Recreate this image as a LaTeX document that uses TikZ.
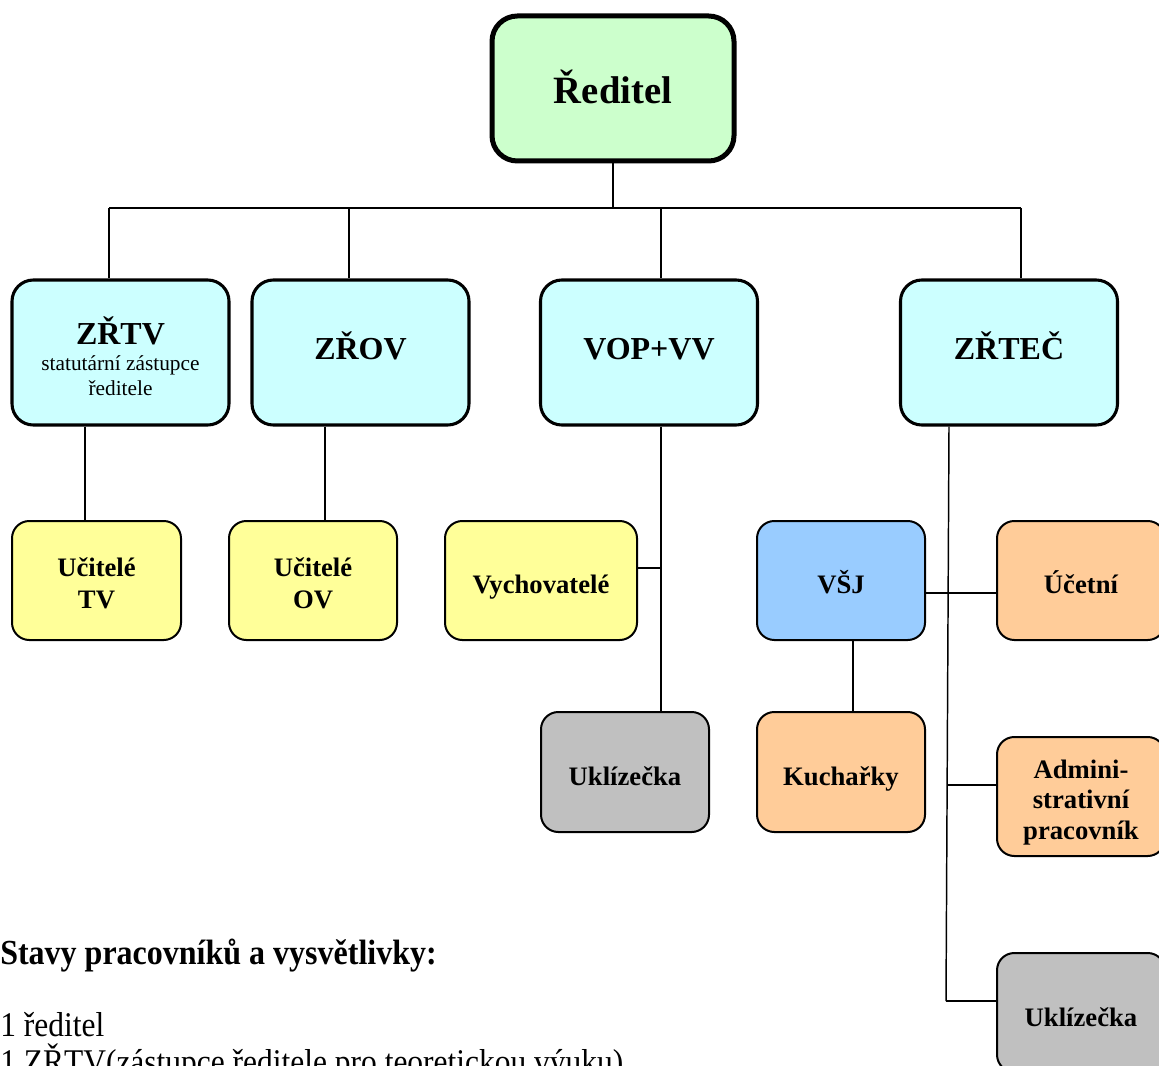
\documentclass[tikz,border=0pt]{standalone}
\usepackage{fontspec}
\setmainfont{Liberation Serif}
\definecolor{cgreen}{HTML}{CCFFCC}
\definecolor{ccyan}{HTML}{CCFFFF}
\definecolor{cyellow}{HTML}{FFFF99}
\definecolor{cblue}{HTML}{99CCFF}
\definecolor{corange}{HTML}{FFCC99}
\definecolor{cgray}{HTML}{C0C0C0}
\begin{document}
\begin{tikzpicture}[x=0.75pt,y=-0.75pt,
  topbox/.style={draw, line width=3.75pt, rounded corners=19pt, fill=cgreen,
    minimum width=242*0.75pt, minimum height=145*0.75pt, inner sep=0pt},
  midbox/.style={draw, line width=2.3pt, rounded corners=16pt, fill=ccyan,
    minimum width=217*0.75pt, minimum height=145*0.75pt, inner sep=0pt},
  smallbox/.style={draw, line width=1.5pt, rounded corners=13pt,
    minimum width=168*0.75pt, minimum height=119*0.75pt, inner sep=0pt},
  toptxt/.style={inner sep=0pt, font=\fontsize{29}{34}\selectfont\bfseries},
  midtxt/.style={inner sep=0pt, align=center, font=\fontsize{24}{28}\selectfont\bfseries},
  smalltxt/.style={inner sep=0pt, align=center, font=\fontsize{20}{24}\selectfont\bfseries},
  conn/.style={line width=1.1pt},
  legend/.style={anchor=base west, inner sep=0pt, yscale=1.1}]
\path[use as bounding box] (0,0) rectangle (1159,1066);
\clip (0,0) rectangle (1159,1066);

% boxes
\node[topbox] (dir) at (613,88.5) {};
\node[toptxt] (dir-t) at (613,86.5) {Ředitel};
\node[midbox] (zrtv) at (120.5,352.5) {};
\node[inner sep=0pt, align=center, font=\fontsize{16}{18.8}\selectfont] (zrtv-t) at (120.5,356)
  {{\fontsize{24}{28}\selectfont\bfseries ZŘTV}\\[1pt]statutární zástupce\\ředitele};
\node[midbox] (zrov) at (360.5,352.5) {};
\node[midtxt] (zrov-t) at (360.5,345.5) {ZŘOV};
\node[midbox] (vop) at (649,352.5) {};
\node[midtxt] (vop-t) at (649,349.5) {VOP+VV};
\node[midbox] (zrtec) at (1009,352.5) {};
\node[midtxt] (zrtec-t) at (1009,345.5) {ZŘTEČ};

\node[smallbox, fill=cyellow, minimum width=169*0.75pt] (uctv) at (96.5,580.5) {};
\node[smalltxt] (uctv-t) at (96.5,583.5) {Učitelé\\TV};
\node[smallbox, fill=cyellow] (ucov) at (313,580.5) {};
\node[smalltxt] (ucov-t) at (313,583.5) {Učitelé\\OV};
\node[smallbox, fill=cyellow, minimum width=192*0.75pt] (vych) at (541,580.5) {};
\node[smalltxt] (vych-t) at (541,587) {Vychovatelé};
\node[smallbox, fill=cgray, minimum height=120*0.75pt] (ukl1) at (625,772) {};
\node[smalltxt] (ukl1-t) at (625,776) {Uklízečka};
\node[smallbox, fill=cblue] (vsj) at (841,580.5) {};
\node[smalltxt] (vsj-t) at (841,582.5) {VŠJ};
\node[smallbox, fill=corange, minimum height=120*0.75pt] (kuch) at (841,772) {};
\node[smalltxt] (kuch-t) at (841,779) {Kuchařky};
\node[smallbox, fill=corange] (ucet) at (1081,580.5) {};
\node[smalltxt] (ucet-t) at (1081,582.5) {Účetní};
\node[smallbox, fill=corange] (admin) at (1081,796.5) {};
\node[smalltxt, font=\fontsize{20}{23}\selectfont\bfseries] (admin-t) at (1081,802.5) {Admini-\\strativní\\pracovník};
\node[smallbox, fill=cgray] (ukl2) at (1081,1012.5) {};
\node[smalltxt] (ukl2-t) at (1081,1017.5) {Uklízečka};

% connectors
\coordinate (busL) at (109,208);
\coordinate (busR) at (1021,208);
\coordinate (b2) at (349,208);
\coordinate (b3) at (661,208);
\draw[conn] (busL) -- (busR);
\draw[conn] (dir.south) -- (dir.south |- busL);
\draw[conn] (busL) -- (busL |- zrtv.north);
\draw[conn] (b2) -- (b2 |- zrov.north);
\draw[conn] (b3) -- (b3 |- vop.north);
\draw[conn] (busR) -- (busR |- zrtec.north);

\coordinate (x1) at (85,0);
\draw[conn] (zrtv.south -| x1) -- (uctv.north -| x1);
\coordinate (x2) at (325,0);
\draw[conn] (zrov.south -| x2) -- (ucov.north -| x2);
\coordinate (x3) at (661,0);
\draw[conn] (vop.south -| x3) -- (ukl1.north -| x3);
\coordinate (v1) at (661,568);
\draw[conn] (vych.east |- v1) -- (v1);

\coordinate (x4) at (949,0);
\coordinate (tend) at (946,1001);
\draw[conn] (zrtec.south -| x4) -- (tend);
\coordinate (h1) at (0,593);
\draw[conn] (vsj.east |- h1) -- (ucet.west |- h1);
\coordinate (h2) at (948,785);
\draw[conn] (h2) -- (admin.west |- h2);
\draw[conn] (tend) -- (ukl2.west |- tend);
\coordinate (x5) at (853,0);
\draw[conn] (vsj.south -| x5) -- (kuch.north -| x5);

% legend
\node[legend, font=\fontsize{24}{28}\selectfont\bfseries] (lh) at (0,964) {Stavy pracovníků a vysvětlivky:};
\node[legend, font=\fontsize{23.6}{28}\selectfont] (l1) at (0,1036) {1 ředitel};
\node[legend, font=\fontsize{23.6}{28}\selectfont] (l2) at (0,1073) {1 ZŘTV(zástupce ředitele pro teoretickou výuku)};
\end{tikzpicture}
\end{document}
